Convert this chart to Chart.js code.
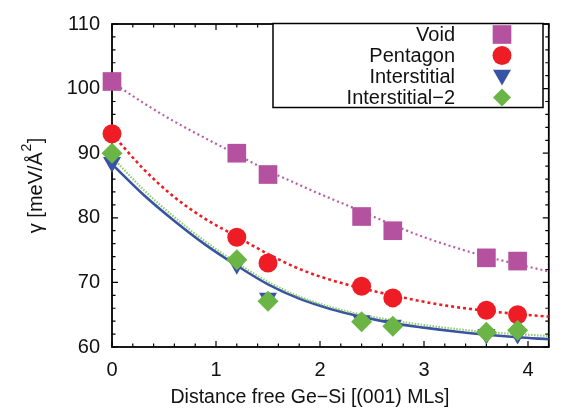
<!DOCTYPE html>
<html>
<head>
<meta charset="utf-8">
<script src="https://cdn.jsdelivr.net/npm/chart.js@4.4.1/dist/chart.umd.min.js"></script>
<style>
  html, body { margin: 0; padding: 0; background: #fff; }
  #wrap { width: 562px; height: 412px; }
</style>
</head>
<body>
<div id="wrap"><canvas id="c"></canvas></div>
<script>
const seriesNames = ["Void", "Pentagon", "Interstitial", "Interstitial\u22122"];
const distances = [0, 1.2, 1.5, 2.4, 2.7, 3.6, 3.9];
const voidGamma = [101.1, 90.0, 86.7, 80.2, 78.0, 73.8, 73.3];
const pentagonGamma = [93.0, 77.0, 73.0, 69.4, 67.6, 65.7, 65.0];
const interstitialGamma = [88.6, 72.8, 67.6, 64.1, 63.4, 62.0, 62.0];
const interstitial2Gamma = [90.0, 73.5, 67.1, 63.9, 63.2, 62.3, 62.6];

// fitted curves
const fitX = [0, 0.3, 0.6, 0.9, 1.2, 1.5, 1.8, 2.1, 2.4, 2.7, 3.0, 3.3, 3.6, 3.9, 4.2];
const voidFit = [101.0, 97.8, 94.9, 92.3, 89.8, 87.3, 85.1, 83.0, 81.0, 78.9, 77.0, 75.4, 74.0, 72.8, 71.7];
const pentagonFit = [93.0, 87.6, 83.2, 79.8, 77.1, 74.4, 72.1, 70.4, 69.1, 68.0, 67.0, 66.2, 65.6, 65.1, 64.7];
const interstitialFit = [88.3, 83.6, 79.5, 75.8, 72.6, 69.7, 67.5, 65.9, 64.7, 63.7, 63.0, 62.4, 61.9, 61.5, 61.2];
const interstitial2Fit = [89.4, 84.4, 80.1, 76.3, 73.0, 70.1, 67.8, 66.2, 65.0, 64.1, 63.4, 62.8, 62.3, 62.0, 61.7];

const xTicks = [0, 1, 2, 3, 4];
const yTicks = [60, 70, 80, 90, 100, 110];
const xTitle = "Distance free Ge\u2212Si [(001) MLs]";
const yTitle = ["\u03b3 [meV/\u00c5", "2", "]"];

const FONT = "'Liberation Sans', Arial, sans-serif";
const colors = ["#b5529f", "#ee1d25", "#3953a4", "#6ab546"];

function pts(xs, ys) {
  return xs.map((x, i) => ({ x: x, y: ys[i] }));
}

function markerSet(i, ys, style, radius, rotation, order) {
  return {
    label: seriesNames[i],
    data: pts(distances, ys),
    showLine: false,
    pointStyle: style,
    pointRadius: radius,
    pointRotation: rotation,
    pointBackgroundColor: colors[i],
    pointBorderColor: colors[i],
    pointBorderWidth: 0,
    clip: false,
    order: order,
    isMarker: true
  };
}

function fitSet(i, ys, color, width, dash, order) {
  return {
    label: seriesNames[i] + " fit",
    data: pts(fitX, ys),
    showLine: true,
    borderColor: color,
    borderWidth: width,
    borderDash: dash,
    pointRadius: 0,
    cubicInterpolationMode: "monotone",
    fill: false,
    order: order
  };
}

function drawShape(ctx, style, x, y, r, color) {
  ctx.fillStyle = color;
  ctx.beginPath();
  if (style === "rect") {
    const s = r * Math.SQRT1_2;
    ctx.rect(x - s, y - s, 2 * s, 2 * s);
  } else if (style === "circle") {
    ctx.arc(x, y, r, 0, Math.PI * 2);
  } else if (style === "triangle") {
    ctx.moveTo(x, y + r);
    ctx.lineTo(x - r * 0.866, y - r / 2);
    ctx.lineTo(x + r * 0.866, y - r / 2);
    ctx.closePath();
  } else {
    const s = r * 0.86;
    ctx.moveTo(x, y - s);
    ctx.lineTo(x + s, y);
    ctx.lineTo(x, y + s);
    ctx.lineTo(x - s, y);
    ctx.closePath();
  }
  ctx.fill();
}

const frameTicks = {
  id: "frameTicks",
  beforeDatasetsDraw(chart) {
    const { ctx, chartArea: a, scales } = chart;
    ctx.save();
    ctx.strokeStyle = "#000";
    ctx.lineWidth = 1.2;
    ctx.beginPath();
    for (let v = 0; v <= 4.2001; v += 0.2) {
      const px = scales.x.getPixelForValue(v);
      const major = Math.abs(v - Math.round(v)) < 1e-6;
      const len = major ? 6 : 3.5;
      ctx.moveTo(px, a.bottom); ctx.lineTo(px, a.bottom - len);
      ctx.moveTo(px, a.top); ctx.lineTo(px, a.top + len);
    }
    for (let v = 60; v <= 110.001; v += 2) {
      const py = scales.y.getPixelForValue(v);
      const len = v % 10 === 0 ? 6 : 3.5;
      ctx.moveTo(a.left, py); ctx.lineTo(a.left + len, py);
      ctx.moveTo(a.right, py); ctx.lineTo(a.right - len, py);
    }
    ctx.stroke();
    ctx.lineWidth = 1.8;
    ctx.strokeRect(a.left, a.top, a.right - a.left, a.bottom - a.top);
    ctx.restore();
  }
};

const axisTitles = {
  id: "axisTitles",
  afterDraw(chart) {
    const ctx = chart.ctx;
    const a = chart.chartArea;
    ctx.save();
    ctx.fillStyle = "#111";
    ctx.textBaseline = "middle";
    ctx.textAlign = "center";
    ctx.font = "19.5px " + FONT;
    ctx.fillText(xTitle, 310, 398);

    // rotated y title with raised "2"
    ctx.translate(36, (a.top + a.bottom) / 2);
    ctx.rotate(-Math.PI / 2);
    ctx.textAlign = "left";
    const big = "20px " + FONT, small = "14px " + FONT;
    ctx.font = big;
    const w0 = ctx.measureText(yTitle[0]).width;
    const w2 = ctx.measureText(yTitle[2]).width;
    ctx.font = small;
    const w1 = ctx.measureText(yTitle[1]).width;
    let x = -(w0 + w1 + w2 + 1) / 2;
    ctx.font = big;
    ctx.fillText(yTitle[0], x, 0);
    x += w0 + 0.5;
    ctx.font = small;
    ctx.fillText(yTitle[1], x, -9);
    x += w1 + 0.5;
    ctx.font = big;
    ctx.fillText(yTitle[2], x, 0);
    ctx.restore();
  }
};

const legendBox = {
  id: "legendBox",
  afterDraw(chart) {
    const ctx = chart.ctx;
    ctx.save();
    ctx.fillStyle = "#fff";
    ctx.fillRect(273, 23.5, 270, 84);
    ctx.strokeStyle = "#000";
    ctx.lineWidth = 1.5;
    ctx.strokeRect(273, 23.5, 270, 84);
    ctx.font = "20px " + FONT;
    ctx.textAlign = "right";
    ctx.textBaseline = "middle";
    const markers = chart.data.datasets.filter(d => d.isMarker);
    markers.sort((p, q) => seriesNames.indexOf(p.label) - seriesNames.indexOf(q.label));
    markers.forEach((d, i) => {
      const y = 34.5 + i * 21;
      ctx.fillStyle = "#111";
      ctx.fillText(d.label, 455, y + 1);
      let style = d.pointStyle;
      if (style === "rectRot") style = "diamond";
      drawShape(ctx, style, 502, y + (style === "triangle" ? -1.5 : 0), d.pointRadius, d.pointBackgroundColor);
    });
    ctx.restore();
  }
};

new Chart(document.getElementById("c"), {
  type: "scatter",
  data: {
    datasets: [
      markerSet(3, interstitial2Gamma, "rectRot", 10.5, 0, 1),
      markerSet(2, interstitialGamma, "triangle", 10.4, 180, 2),
      markerSet(1, pentagonGamma, "circle", 9.5, 0, 3),
      markerSet(0, voidGamma, "rect", 13.2, 0, 4),
      fitSet(3, interstitial2Fit, "#8fcc6c", 2.2, [1.5, 1.5], 5),
      fitSet(2, interstitialFit, "#3953a4", 2.6, [], 6),
      fitSet(1, pentagonFit, "#ee1d25", 2.6, [3, 3], 7),
      fitSet(0, voidFit, "#bb5ca8", 2.2, [2, 3], 8)
    ]
  },
  options: {
    responsive: true,
    maintainAspectRatio: false,
    animation: false,
    events: [],
    layout: { padding: { left: 0, right: 6, top: 19, bottom: 0 } },
    scales: {
      x: {
        type: "linear",
        min: 0,
        max: 4.2,
        afterFit(s) { s.height = 65; },
        afterBuildTicks(s) { s.ticks = xTicks.map(v => ({ value: v })); },
        grid: { display: false, drawTicks: false },
        border: { display: false },
        ticks: { color: "#111", padding: 11, font: { family: FONT, size: 20 } },
        title: { display: false }
      },
      y: {
        type: "linear",
        min: 60,
        max: 110,
        afterFit(s) { s.width = 112; },
        afterBuildTicks(s) { s.ticks = yTicks.map(v => ({ value: v })); },
        grid: { display: false, drawTicks: false },
        border: { display: false },
        ticks: { color: "#111", padding: 12, font: { family: FONT, size: 20 } },
        title: { display: false }
      }
    },
    plugins: {
      legend: { display: false },
      tooltip: { enabled: false }
    }
  },
  plugins: [frameTicks, axisTitles, legendBox]
});
</script>
</body>
</html>
